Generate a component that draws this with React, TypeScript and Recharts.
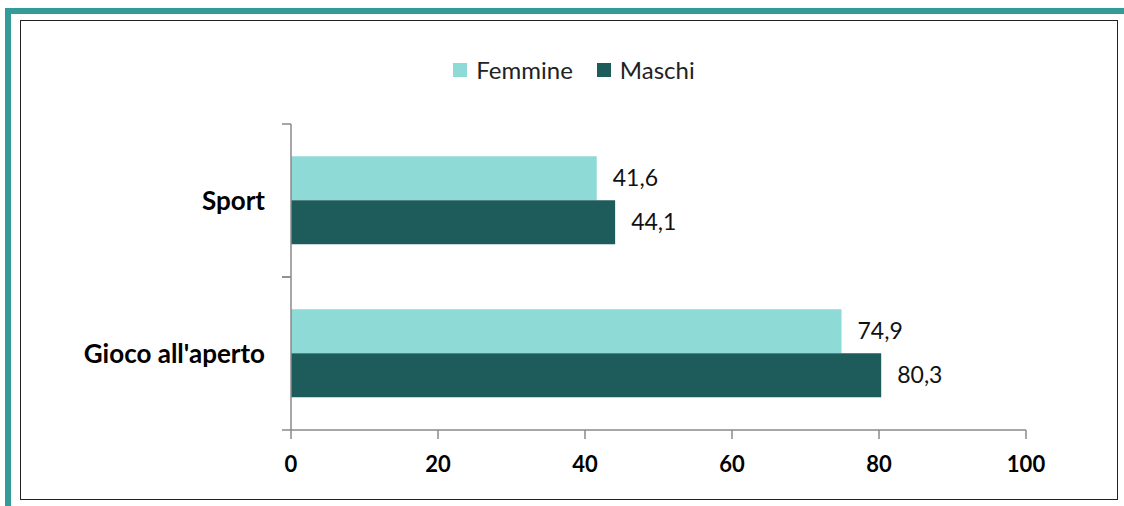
import React from "react";
import { BarChart, Bar, XAxis, YAxis, LabelList } from "recharts";

const categories = ["Sport", "Gioco all'aperto"];
const femmine = [41.6, 74.9];
const maschi = [44.1, 80.3];
const seriesNames = ["Femmine", "Maschi"];
const xTicks = [0, 20, 40, 60, 80, 100];

const COLORS = ["#8EDAD7", "#1E5C5B"];
const AXIS = "#8a8a8a";
const FONT = "Lato, 'Open Sans', sans-serif";

const W = 1124;
const H = 506;
const MARGIN = { top: 124, right: 98, bottom: 36, left: 20 };
const X_AXIS_H = 40;
const PLOT_H = H - MARGIN.top - MARGIN.bottom - X_AXIS_H;

const data = categories.map((c, i) => ({ name: c, Femmine: femmine[i], Maschi: maschi[i] }));

const fmt = (v: any) => String(v).replace(".", ",");

const CatTick = (props: any) => {
  const { x, y, payload } = props;
  const band = PLOT_H / categories.length;
  return (
    <g>
      <line x1={x - 9} x2={x} y1={y - band / 2} y2={y - band / 2} stroke={AXIS} strokeWidth={1.5} />
      <line x1={x - 9} x2={x} y1={y + band / 2} y2={y + band / 2} stroke={AXIS} strokeWidth={1.5} />
      <text x={x - 26} y={y} dy="0.36em" textAnchor="end" fill="#000" fontSize={26} fontWeight={700} fontFamily={FONT}>
        {payload.value}
      </text>
    </g>
  );
};

export default function App() {
  return (
    <div style={{ position: "absolute", left: 0, top: 0, width: W, height: H, background: "#fff", fontFamily: FONT }}>
      <div style={{ position: "absolute", left: 5, top: 8, width: 1119, height: 6, background: "#339C98" }} />
      <div style={{ position: "absolute", left: 5, top: 8, width: 6, height: 498, background: "#339C98" }} />
      <div style={{ position: "absolute", left: 20, top: 20, width: 1098, height: 480, border: "1.5px solid #222", boxSizing: "border-box" }} />
      <div style={{ position: "absolute", left: 12, top: 55, width: W, display: "flex", justifyContent: "center", alignItems: "center", fontSize: 24, color: "#222" }}>
        {seriesNames.map((n, i) => (
          <div key={n} style={{ display: "flex", alignItems: "center", marginLeft: i ? 24 : 0 }}>
            <div style={{ width: 14, height: 14, background: COLORS[i], marginRight: 9 }} />
            <span>{n}</span>
          </div>
        ))}
      </div>
      <div style={{ position: "absolute", left: 0, top: 0 }}>
        <BarChart
          width={W}
          height={H}
          data={data}
          layout="vertical"
          margin={MARGIN}
          barCategoryGap="21%"
          barGap={0}
        >
          <XAxis
            type="number"
            domain={[0, 100]}
            ticks={xTicks}
            height={X_AXIS_H}
            axisLine={{ stroke: AXIS, strokeWidth: 1.5 }}
            tickLine={{ stroke: AXIS, strokeWidth: 1.5 }}
            tickSize={9}
            tickMargin={17}
            tick={{ fill: "#000", fontSize: 22, fontWeight: 700, fontFamily: FONT }}
          />
          <YAxis
            type="category"
            dataKey="name"
            width={271}
            axisLine={{ stroke: AXIS, strokeWidth: 1.5 }}
            tickLine={false}
            tickSize={0}
            tickMargin={0}
            tick={<CatTick />}
          />
          <Bar dataKey="Femmine" fill={COLORS[0]} isAnimationActive={false}>
            <LabelList dataKey="Femmine" position="right" offset={16} formatter={fmt} style={{ fill: "#111", fontSize: 23, fontFamily: FONT }} />
          </Bar>
          <Bar dataKey="Maschi" fill={COLORS[1]} isAnimationActive={false}>
            <LabelList dataKey="Maschi" position="right" offset={16} formatter={fmt} style={{ fill: "#111", fontSize: 23, fontFamily: FONT }} />
          </Bar>
        </BarChart>
      </div>
    </div>
  );
}
